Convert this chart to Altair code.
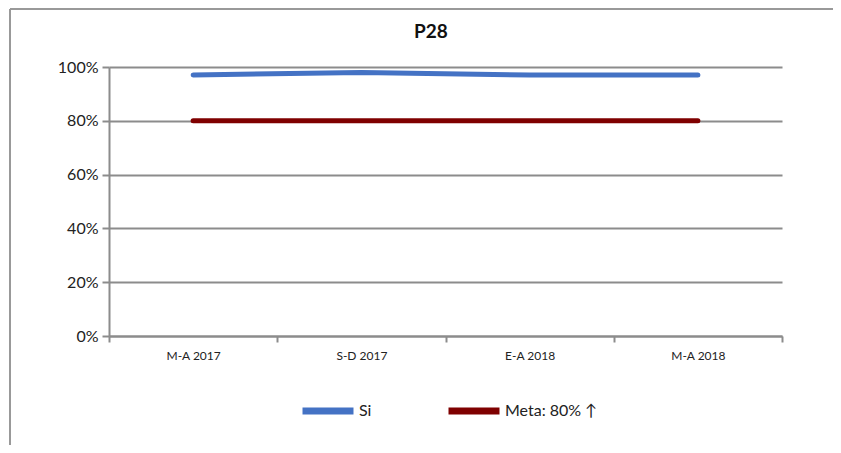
import altair as alt
import pandas as pd

categories = ["M-A 2017", "S-D 2017", "E-A 2018", "M-A 2018"]
si_values = [0.97, 0.98, 0.97, 0.97]
meta_values = [0.80, 0.80, 0.80, 0.80]
series_names = ["Si", "Meta: 80% ↑"]
series_colors = ["#4472C4", "#7F0000"]
y_ticks = [0, 0.2, 0.4, 0.6, 0.8, 1.0]
title_text = ["P28"]

rows = []
for c, v in zip(categories, si_values):
    rows.append({"periodo": c, "valor": v, "serie": series_names[0]})
for c, v in zip(categories, meta_values):
    rows.append({"periodo": c, "valor": v, "serie": series_names[1]})
df = pd.DataFrame(rows)

FONT = "Lato"
GREY = "#8c8c8c"

lines = alt.Chart(df).mark_line(strokeWidth=5, strokeCap="round", strokeJoin="round").encode(
    x=alt.X("periodo:N", sort=categories, bandPosition=0.5,
            scale=alt.Scale(type="band", paddingInner=0, paddingOuter=0),
            axis=alt.Axis(title=None, labelAngle=0, tickBand="extent", labelFontSize=12,
                          labelFont=FONT, labelColor="#222", labelPadding=8,
                          domainColor=GREY, domainWidth=2, tickColor=GREY, tickWidth=2,
                          tickSize=6, grid=False)),
    y=alt.Y("valor:Q", scale=alt.Scale(domain=[0, 1]),
            axis=alt.Axis(title=None, values=y_ticks, format=".0%", labelFontSize=16,
                          labelFont=FONT, labelColor="#222", labelPadding=4,
                          domainColor=GREY, domainWidth=2, tickColor=GREY, tickWidth=2,
                          tickSize=7, gridColor=GREY, gridWidth=2)),
    color=alt.Color("serie:N", sort=series_names,
                    scale=alt.Scale(domain=series_names, range=series_colors),
                    legend=alt.Legend(title=None, orient="none", legendX=190, legendY=315,
                                      direction="horizontal", symbolType="stroke",
                                      symbolSize=2600, symbolStrokeWidth=7,
                                      labelFontSize=16, labelFont=FONT, labelColor="#222",
                                      labelOffset=2, columnPadding=62)),
)

base = alt.Chart(pd.DataFrame({"k": [0]}))
frame_left = base.mark_rule(stroke="#999999", strokeWidth=2, clip=False).encode(
    x=alt.value(-99), y=alt.value(-58), y2=alt.value(500))
frame_top = base.mark_rule(stroke="#999999", strokeWidth=2, clip=False).encode(
    x=alt.value(-99), x2=alt.value(900), y=alt.value(-58))

title = alt.Chart(pd.DataFrame({"t": title_text})).mark_text(
    font=FONT, fontSize=19, fontWeight="bold", color="#111", align="center", baseline="middle"
).encode(text="t:N", x=alt.value(322), y=alt.value(-35))

chart = alt.layer(frame_left, frame_top, lines, title).properties(
    width=673, height=269,
    autosize=alt.AutoSizeParams(type="none"),
    padding={"left": 101, "top": 59, "right": 51, "bottom": 109},
).configure_view(stroke=None)

chart.save("out.html", embed_options={"renderer": "svg", "actions": False})
